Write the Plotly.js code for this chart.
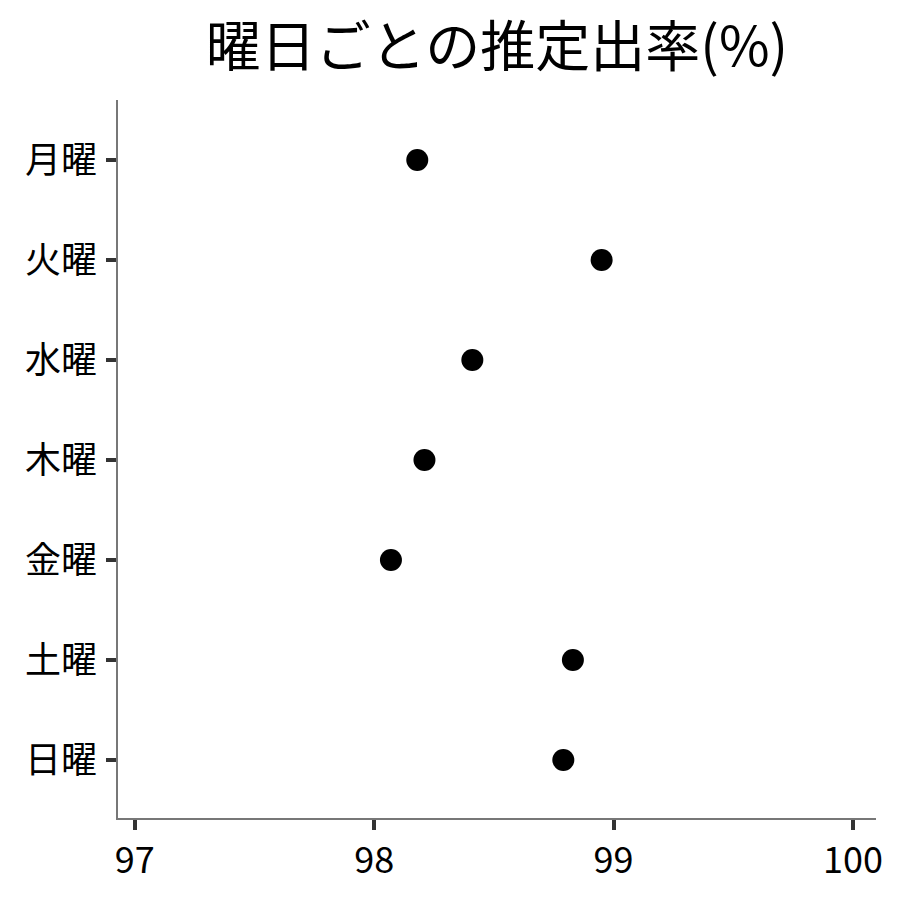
<!DOCTYPE html>
<html>
<head>
<meta charset="utf-8">
<script src="https://cdn.plot.ly/plotly-3.0.1.min.js"></script>
<style>
  body { margin: 0; background: white; }
  #myDiv { width: 900px; height: 900px; }
</style>
</head>
<body>
<div id="myDiv"></div>
<script>
// 曜日ごとの推定出率
var days = ['月曜', '火曜', '水曜', '木曜', '金曜', '土曜', '日曜'];
var rates = [98.18, 98.95, 98.41, 98.21, 98.07, 98.83, 98.79];
var xTicks = [97, 98, 99, 100];

var trace = {
  x: rates,
  y: days,
  type: 'scatter',
  mode: 'markers',
  marker: {
    color: 'black',
    size: 22
  },
  hoverinfo: 'x+y'
};

var layout = {
  width: 900,
  height: 900,
  margin: { l: 118, r: 24, t: 100, b: 82 },
  paper_bgcolor: 'white',
  plot_bgcolor: 'white',
  font: { family: '"Noto Sans CJK JP", "Noto Sans", sans-serif', color: 'black' },
  title: {
    text: '曜日ごとの推定出率(%)',
    font: { size: 55, color: 'black' },
    x: 0.5,
    xref: 'paper',
    y: 0.948,
    yref: 'container',
    yanchor: 'middle'
  },
  showlegend: false,
  xaxis: {
    range: [96.93, 100.096],
    tickvals: xTicks,
    ticktext: xTicks.map(String),
    showgrid: false,
    zeroline: false,
    showline: true,
    linecolor: '#777',
    linewidth: 1.5,
    ticks: 'outside',
    ticklen: 10,
    tickwidth: 4,
    tickcolor: '#333',
    tickfont: { size: 36, color: 'black' }
  },
  yaxis: {
    type: 'category',
    categoryorder: 'array',
    categoryarray: days,
    range: [6.58, -0.6],
    showgrid: false,
    zeroline: false,
    showline: true,
    linecolor: '#777',
    linewidth: 1.5,
    ticks: 'outside',
    ticklen: 10,
    tickwidth: 4,
    tickcolor: '#333',
    ticklabelstandoff: 2,
    tickfont: { size: 36, color: 'black' }
  }
};

Plotly.newPlot('myDiv', [trace], layout, { displayModeBar: false });
</script>
</body>
</html>
